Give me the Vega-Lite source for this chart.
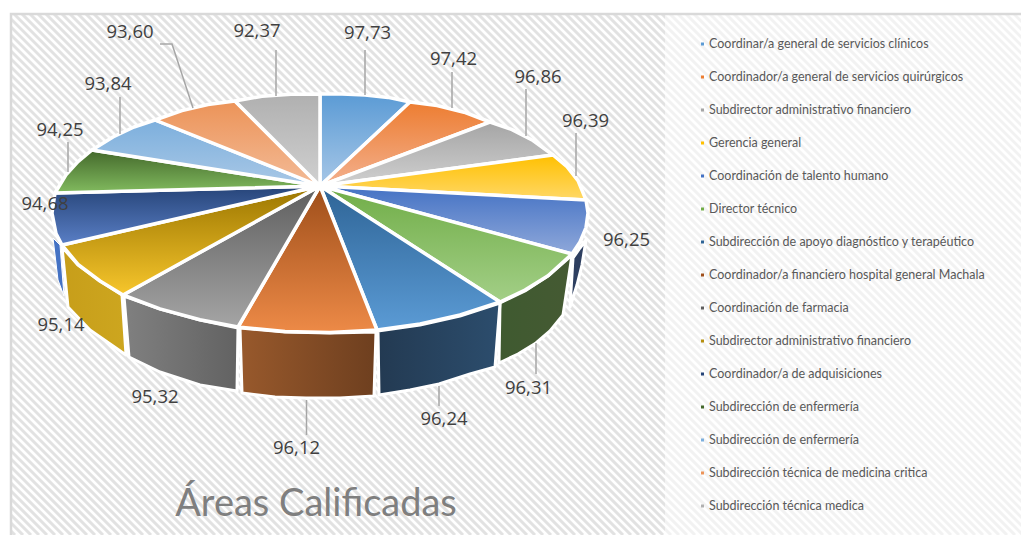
{"$schema":"https://vega.github.io/schema/vega-lite/v6.json","width":1021,"height":535,"padding":0,"autosize":"none","background":"#ffffff","view":{"stroke":null},
"resolve":{"scale":{"color":"independent"}},
"layer":[
{"projection":{"type":"identity","scale":1,"translate":[0,0]},
"layer":[
{"mark":{"type":"geoshape","filled":false,"stroke":"#e2e2e2","strokeWidth":3},
"data":{"values":[{"type":"Feature","properties":{"n":"trama"},"geometry":{"type":"MultiLineString","coordinates":[
[[-520,0],[15,535]],[[-512,0],[23,535]],[[-504,0],[31,535]],[[-496,0],[39,535]],[[-488,0],[47,535]],[[-480,0],[55,535]],[[-472,0],[63,535]],[[-464,0],[71,535]],[[-456,0],[79,535]],[[-448,0],[87,535]],
[[-440,0],[95,535]],[[-432,0],[103,535]],[[-424,0],[111,535]],[[-416,0],[119,535]],[[-408,0],[127,535]],[[-400,0],[135,535]],[[-392,0],[143,535]],[[-384,0],[151,535]],[[-376,0],[159,535]],[[-368,0],[167,535]],
[[-360,0],[175,535]],[[-352,0],[183,535]],[[-344,0],[191,535]],[[-336,0],[199,535]],[[-328,0],[207,535]],[[-320,0],[215,535]],[[-312,0],[223,535]],[[-304,0],[231,535]],[[-296,0],[239,535]],[[-288,0],[247,535]],
[[-280,0],[255,535]],[[-272,0],[263,535]],[[-264,0],[271,535]],[[-256,0],[279,535]],[[-248,0],[287,535]],[[-240,0],[295,535]],[[-232,0],[303,535]],[[-224,0],[311,535]],[[-216,0],[319,535]],[[-208,0],[327,535]],
[[-200,0],[335,535]],[[-192,0],[343,535]],[[-184,0],[351,535]],[[-176,0],[359,535]],[[-168,0],[367,535]],[[-160,0],[375,535]],[[-152,0],[383,535]],[[-144,0],[391,535]],[[-136,0],[399,535]],[[-128,0],[407,535]],
[[-120,0],[415,535]],[[-112,0],[423,535]],[[-104,0],[431,535]],[[-96,0],[439,535]],[[-88,0],[447,535]],[[-80,0],[455,535]],[[-72,0],[463,535]],[[-64,0],[471,535]],[[-56,0],[479,535]],[[-48,0],[487,535]],
[[-40,0],[495,535]],[[-32,0],[503,535]],[[-24,0],[511,535]],[[-16,0],[519,535]],[[-8,0],[527,535]],[[0,0],[535,535]],[[8,0],[543,535]],[[16,0],[551,535]],[[24,0],[559,535]],[[32,0],[567,535]],
[[40,0],[575,535]],[[48,0],[583,535]],[[56,0],[591,535]],[[64,0],[599,535]],[[72,0],[607,535]],[[80,0],[615,535]],[[88,0],[623,535]],[[96,0],[631,535]],[[104,0],[639,535]],[[112,0],[647,535]],
[[120,0],[655,535]],[[128,0],[663,535]],[[136,0],[671,535]],[[144,0],[679,535]],[[152,0],[687,535]],[[160,0],[695,535]],[[168,0],[703,535]],[[176,0],[711,535]],[[184,0],[719,535]],[[192,0],[727,535]],
[[200,0],[735,535]],[[208,0],[743,535]],[[216,0],[751,535]],[[224,0],[759,535]],[[232,0],[767,535]],[[240,0],[775,535]],[[248,0],[783,535]],[[256,0],[791,535]],[[264,0],[799,535]],[[272,0],[807,535]],
[[280,0],[815,535]],[[288,0],[823,535]],[[296,0],[831,535]],[[304,0],[839,535]],[[312,0],[847,535]],[[320,0],[855,535]],[[328,0],[863,535]],[[336,0],[871,535]],[[344,0],[879,535]],[[352,0],[887,535]],
[[360,0],[895,535]],[[368,0],[903,535]],[[376,0],[911,535]],[[384,0],[919,535]],[[392,0],[927,535]],[[400,0],[935,535]],[[408,0],[943,535]],[[416,0],[951,535]],[[424,0],[959,535]],[[432,0],[967,535]],
[[440,0],[975,535]],[[448,0],[983,535]],[[456,0],[991,535]],[[464,0],[999,535]],[[472,0],[1007,535]],[[480,0],[1015,535]],[[488,0],[1023,535]],[[496,0],[1031,535]],[[504,0],[1039,535]],[[512,0],[1047,535]],
[[520,0],[1055,535]],[[528,0],[1063,535]],[[536,0],[1071,535]],[[544,0],[1079,535]],[[552,0],[1087,535]],[[560,0],[1095,535]],[[568,0],[1103,535]],[[576,0],[1111,535]],[[584,0],[1119,535]],[[592,0],[1127,535]],
[[600,0],[1135,535]],[[608,0],[1143,535]],[[616,0],[1151,535]],[[624,0],[1159,535]],[[632,0],[1167,535]],[[640,0],[1175,535]],[[648,0],[1183,535]],[[656,0],[1191,535]],[[664,0],[1199,535]],[[672,0],[1207,535]],
[[680,0],[1215,535]],[[688,0],[1223,535]],[[696,0],[1231,535]],[[704,0],[1239,535]],[[712,0],[1247,535]],[[720,0],[1255,535]],[[728,0],[1263,535]],[[736,0],[1271,535]],[[744,0],[1279,535]],[[752,0],[1287,535]],
[[760,0],[1295,535]],[[768,0],[1303,535]],[[776,0],[1311,535]],[[784,0],[1319,535]],[[792,0],[1327,535]],[[800,0],[1335,535]],[[808,0],[1343,535]],[[816,0],[1351,535]],[[824,0],[1359,535]],[[832,0],[1367,535]],
[[840,0],[1375,535]],[[848,0],[1383,535]],[[856,0],[1391,535]],[[864,0],[1399,535]],[[872,0],[1407,535]],[[880,0],[1415,535]],[[888,0],[1423,535]],[[896,0],[1431,535]],[[904,0],[1439,535]],[[912,0],[1447,535]],
[[920,0],[1455,535]],[[928,0],[1463,535]],[[936,0],[1471,535]],[[944,0],[1479,535]],[[952,0],[1487,535]],[[960,0],[1495,535]],[[968,0],[1503,535]],[[976,0],[1511,535]],[[984,0],[1519,535]],[[992,0],[1527,535]],[[1000,0],[1535,535]],[[1008,0],[1543,535]]
]}}]},"encoding":{}},
{"mark":{"type":"geoshape","fill":"#ffffff","fillOpacity":0.55,"strokeWidth":0},
"data":{"values":[{"type":"Feature","properties":{"n":"leyenda"},"geometry":{"type":"Polygon","coordinates":[[[665,14],[1030,14],[1030,545],[665,545],[665,14]]]}}]},"encoding":{}},
{"mark":{"type":"geoshape","fill":"#ffffff","strokeWidth":0},
"data":{"values":[{"type":"Feature","properties":{"n":"margen"},"geometry":{"type":"MultiPolygon","coordinates":[[[[-5,-5],[1030,-5],[1030,14],[-5,14],[-5,-5]]],[[[-5,-5],[11,-5],[11,545],[-5,545],[-5,-5]]]]}}]},"encoding":{}},
{"mark":{"type":"geoshape","filled":false,"stroke":"#d9d9d9","strokeWidth":2.5},
"data":{"values":[{"type":"Feature","properties":{"n":"marco"},"geometry":{"type":"Polygon","coordinates":[[[11,14],[1030,14],[1030,545],[11,545],[11,14]]]}}]},"encoding":{}},

{"mark":{"type":"geoshape","stroke":"#ffffff","strokeWidth":3,"strokeJoin":"round","fill":{"gradient":"linear","x1":0,"y1":0,"x2":1,"y2":0,"stops":[{"offset":0,"color":"#2e3f60"},{"offset":1,"color":"#2e3f60"}]}},"encoding":{},
"data":{"values":[{"type":"Feature","properties":{"p":5},"geometry":{"type":"Polygon","coordinates":[[[586,240],[582,265],[577,285],[570,307],[573,258],[580,248],[586,240]]]}}]}},
{"mark":{"type":"geoshape","stroke":"#ffffff","strokeWidth":3,"strokeJoin":"round","fill":{"gradient":"linear","x1":0,"y1":0,"x2":1,"y2":0,"stops":[{"offset":0,"color":"#3f5a30"},{"offset":1,"color":"#455a33"}]}},"encoding":{},
"data":{"values":[{"type":"Feature","properties":{"p":6},"geometry":{"type":"Polygon","coordinates":[[[500,303],[525,291],[548,276],[572,255],[563,315],[550,331],[536,343],[518,354],[499,363],[500,303]]]}}]}},
{"mark":{"type":"geoshape","stroke":"#ffffff","strokeWidth":3,"strokeJoin":"round","fill":{"gradient":"linear","x1":0,"y1":0,"x2":1,"y2":0,"stops":[{"offset":0,"color":"#233a52"},{"offset":1,"color":"#2c4d6d"}]}},"encoding":{},
"data":{"values":[{"type":"Feature","properties":{"p":7},"geometry":{"type":"Polygon","coordinates":[[[500,303],[460,316],[420,325],[378,331],[379,395],[410,390],[439,384],[470,374],[495,367],[500,303]]]}}]}},
{"mark":{"type":"geoshape","stroke":"#ffffff","strokeWidth":3,"strokeJoin":"round","fill":{"gradient":"linear","x1":0,"y1":0,"x2":1,"y2":0,"stops":[{"offset":0,"color":"#98592c"},{"offset":1,"color":"#6e3f1f"}]}},"encoding":{},
"data":{"values":[{"type":"Feature","properties":{"p":8},"geometry":{"type":"Polygon","coordinates":[[[376,332],[330,333],[285,332],[240,328],[242,393],[275,397],[306,398],[340,398],[374,396],[376,332]]]}}]}},
{"mark":{"type":"geoshape","stroke":"#ffffff","strokeWidth":3,"strokeJoin":"round","fill":{"gradient":"linear","x1":0,"y1":0,"x2":1,"y2":0,"stops":[{"offset":0,"color":"#808080"},{"offset":1,"color":"#626262"}]}},"encoding":{},
"data":{"values":[{"type":"Feature","properties":{"p":9},"geometry":{"type":"Polygon","coordinates":[[[238,328],[200,320],[160,309],[124,296],[129,357],[160,372],[200,385],[237,391],[238,328]]]}}]}},
{"mark":{"type":"geoshape","stroke":"#ffffff","strokeWidth":3,"strokeJoin":"round","fill":{"gradient":"linear","x1":0,"y1":0,"x2":1,"y2":0,"stops":[{"offset":0,"color":"#c79e1a"},{"offset":1,"color":"#cda61f"}]}},"encoding":{},
"data":{"values":[{"type":"Feature","properties":{"p":10},"geometry":{"type":"Polygon","coordinates":[[[122,295],[100,281],[78,265],[62,247],[68,307],[90,330],[126,355],[122,295]]]}}]}},
{"mark":{"type":"geoshape","stroke":"#ffffff","strokeWidth":1,"strokeJoin":"round","fill":"#4472c4"},"encoding":{},
"data":{"values":[{"type":"Feature","properties":{"p":11},"geometry":{"type":"Polygon","coordinates":[[[53,238],[60,245],[64,296],[58,280],[53,238]]]}}]}},

{"mark":{"type":"geoshape","stroke":"#ffffff","strokeWidth":3.5,"strokeJoin":"round","fill":{"gradient":"linear","x1":0,"y1":0,"x2":0,"y2":1,"stops":[{"offset":0,"color":"#5b9bd5"},{"offset":1,"color":"#a7c7e7"}]}},"encoding":{},
"data":{"values":[{"type":"Feature","properties":{"orden":1},"geometry":{"type":"Polygon","coordinates":[[[320,186],[320,94],[342,94],[365,95],[388,97.4],[410,102],[320,186]]]}}]}},
{"mark":{"type":"geoshape","stroke":"#ffffff","strokeWidth":3.5,"strokeJoin":"round","fill":{"gradient":"linear","x1":0,"y1":0,"x2":0,"y2":1,"stops":[{"offset":0,"color":"#ed7d31"},{"offset":1,"color":"#f3b08e"}]}},"encoding":{},
"data":{"values":[{"type":"Feature","properties":{"orden":2},"geometry":{"type":"Polygon","coordinates":[[[320,186],[410,102],[437,105.5],[464,112.2],[490,122],[320,186]]]}}]}},
{"mark":{"type":"geoshape","stroke":"#ffffff","strokeWidth":3.5,"strokeJoin":"round","fill":{"gradient":"linear","x1":0,"y1":0,"x2":0,"y2":1,"stops":[{"offset":0,"color":"#a5a5a5"},{"offset":1,"color":"#d0d0d0"}]}},"encoding":{},
"data":{"values":[{"type":"Feature","properties":{"orden":3},"geometry":{"type":"Polygon","coordinates":[[[320,186],[490,122],[512,129.6],[533,140.5],[553,155],[320,186]]]}}]}},
{"mark":{"type":"geoshape","stroke":"#ffffff","strokeWidth":3.5,"strokeJoin":"round","fill":{"gradient":"linear","x1":0,"y1":0,"x2":0,"y2":1,"stops":[{"offset":0,"color":"#ffc000"},{"offset":1,"color":"#ffd867"}]}},"encoding":{},
"data":{"values":[{"type":"Feature","properties":{"orden":4},"geometry":{"type":"Polygon","coordinates":[[[320,186],[553,155],[567,166.7],[578,180.7],[586,200],[320,186]]]}}]}},
{"mark":{"type":"geoshape","stroke":"#ffffff","strokeWidth":3.5,"strokeJoin":"round","fill":{"gradient":"linear","x1":0,"y1":0,"x2":0,"y2":1,"stops":[{"offset":0,"color":"#4472c4"},{"offset":1,"color":"#8fa8da"}]}},"encoding":{},
"data":{"values":[{"type":"Feature","properties":{"orden":5},"geometry":{"type":"Polygon","coordinates":[[[320,186],[586,200],[588,213],[586,227.6],[580,242],[572,254],[320,186]]]}}]}},
{"mark":{"type":"geoshape","stroke":"#ffffff","strokeWidth":3.5,"strokeJoin":"round","fill":{"gradient":"linear","x1":0,"y1":0,"x2":0,"y2":1,"stops":[{"offset":0,"color":"#70ad47"},{"offset":1,"color":"#a3cf87"}]}},"encoding":{},
"data":{"values":[{"type":"Feature","properties":{"orden":6},"geometry":{"type":"Polygon","coordinates":[[[320,186],[572,254],[548,275.7],[525,290],[500,302],[320,186]]]}}]}},
{"mark":{"type":"geoshape","stroke":"#ffffff","strokeWidth":3.5,"strokeJoin":"round","fill":{"gradient":"linear","x1":0,"y1":0,"x2":0,"y2":1,"stops":[{"offset":0,"color":"#2e6496"},{"offset":1,"color":"#5b9bd5"}]}},"encoding":{},
"data":{"values":[{"type":"Feature","properties":{"orden":7},"geometry":{"type":"Polygon","coordinates":[[[320,186],[500,302],[460,315],[420,323.9],[377,330],[320,186]]]}}]}},
{"mark":{"type":"geoshape","stroke":"#ffffff","strokeWidth":3.5,"strokeJoin":"round","fill":{"gradient":"linear","x1":0,"y1":0,"x2":0,"y2":1,"stops":[{"offset":0,"color":"#9e4e1a"},{"offset":1,"color":"#ed8a47"}]}},"encoding":{},
"data":{"values":[{"type":"Feature","properties":{"orden":8},"geometry":{"type":"Polygon","coordinates":[[[320,186],[377,330],[330,332.4],[285,331.4],[238,327],[320,186]]]}}]}},
{"mark":{"type":"geoshape","stroke":"#ffffff","strokeWidth":3.5,"strokeJoin":"round","fill":{"gradient":"linear","x1":0,"y1":0,"x2":0,"y2":1,"stops":[{"offset":0,"color":"#5e5e5e"},{"offset":1,"color":"#a5a5a5"}]}},"encoding":{},
"data":{"values":[{"type":"Feature","properties":{"orden":9},"geometry":{"type":"Polygon","coordinates":[[[320,186],[238,327],[200,319.8],[160,308.9],[123,295],[320,186]]]}}]}},
{"mark":{"type":"geoshape","stroke":"#ffffff","strokeWidth":3.5,"strokeJoin":"round","fill":{"gradient":"linear","x1":0,"y1":0,"x2":0,"y2":1,"stops":[{"offset":0,"color":"#9a7500"},{"offset":1,"color":"#f7c62c"}]}},"encoding":{},
"data":{"values":[{"type":"Feature","properties":{"orden":10},"geometry":{"type":"Polygon","coordinates":[[[320,186],[123,295],[100,281],[78,264.4],[62,245],[320,186]]]}}]}},
{"mark":{"type":"geoshape","stroke":"#ffffff","strokeWidth":3.5,"strokeJoin":"round","fill":{"gradient":"linear","x1":0,"y1":0,"x2":0,"y2":1,"stops":[{"offset":0,"color":"#264478"},{"offset":1,"color":"#5a7fc6"}]}},"encoding":{},
"data":{"values":[{"type":"Feature","properties":{"orden":11},"geometry":{"type":"Polygon","coordinates":[[[320,186],[62,245],[56,233.6],[52,213],[55,193],[320,186]]]}}]}},
{"mark":{"type":"geoshape","stroke":"#ffffff","strokeWidth":3.5,"strokeJoin":"round","fill":{"gradient":"linear","x1":0,"y1":0,"x2":0,"y2":1,"stops":[{"offset":0,"color":"#43682b"},{"offset":1,"color":"#82bb5f"}]}},"encoding":{},
"data":{"values":[{"type":"Feature","properties":{"orden":12},"geometry":{"type":"Polygon","coordinates":[[[320,186],[55,193],[66,174.9],[78,161.6],[92,150],[320,186]]]}}]}},
{"mark":{"type":"geoshape","stroke":"#ffffff","strokeWidth":3.5,"strokeJoin":"round","fill":{"gradient":"linear","x1":0,"y1":0,"x2":0,"y2":1,"stops":[{"offset":0,"color":"#7cafdd"},{"offset":1,"color":"#a9c8e6"}]}},"encoding":{},
"data":{"values":[{"type":"Feature","properties":{"orden":13},"geometry":{"type":"Polygon","coordinates":[[[320,186],[92,150],[113,137],[134,127],[155,120],[320,186]]]}}]}},
{"mark":{"type":"geoshape","stroke":"#ffffff","strokeWidth":3.5,"strokeJoin":"round","fill":{"gradient":"linear","x1":0,"y1":0,"x2":0,"y2":1,"stops":[{"offset":0,"color":"#ec9358"},{"offset":1,"color":"#f3bb97"}]}},"encoding":{},
"data":{"values":[{"type":"Feature","properties":{"orden":14},"geometry":{"type":"Polygon","coordinates":[[[320,186],[155,120],[182,110.6],[208,104.5],[235,101],[320,186]]]}}]}},
{"mark":{"type":"geoshape","stroke":"#ffffff","strokeWidth":3.5,"strokeJoin":"round","fill":{"gradient":"linear","x1":0,"y1":0,"x2":0,"y2":1,"stops":[{"offset":0,"color":"#b0b0b0"},{"offset":1,"color":"#d0d0d0"}]}},"encoding":{},
"data":{"values":[{"type":"Feature","properties":{"orden":15},"geometry":{"type":"Polygon","coordinates":[[[320,186],[235,101],[262,96.3],[291,94.2],[320,94],[320,186]]]}}]}},

{"mark":{"type":"geoshape","filled":false,"stroke":"#a6a6a6","strokeWidth":1.5},
"data":{"values":[{"type":"Feature","properties":{"n":"guias"},"geometry":{"type":"MultiLineString","coordinates":[
[[365,50],[365,95]],[[452,72],[452,108]],[[526,89],[526,136]],[[576,133],[576,176]],[[536,343],[536,374]],[[439,386],[439,406]],[[306.5,400],[306.5,435]],[[68,142],[68,172]],[[120,97],[120,134]],[[160,44],[172,44],[193,108]],[[276,50],[276,96]]
]}}]},"encoding":{}},
{"mark":{"type":"text","font":"Open Sans","fontSize":18.5,"color":"#404040","align":"center","baseline":"middle"},
"data":{"values":[
{"valor":"97,73","lon":367.5,"lat":33},{"valor":"97,42","lon":453.5,"lat":59},{"valor":"96,86","lon":538,"lat":77},{"valor":"96,39","lon":585.5,"lat":121},{"valor":"96,25","lon":626.5,"lat":240},{"valor":"96,31","lon":528.5,"lat":388},{"valor":"96,24","lon":444,"lat":419},{"valor":"96,12","lon":296.5,"lat":448},{"valor":"95,32","lon":155,"lat":397},{"valor":"95,14","lon":61,"lat":325},{"valor":"94,68","lon":45,"lat":204},{"valor":"94,25","lon":60,"lat":130},{"valor":"93,84","lon":108,"lat":84},{"valor":"93,60","lon":130,"lat":32},{"valor":"92,37","lon":257,"lat":31}
]},
"encoding":{"longitude":{"field":"lon","type":"quantitative"},"latitude":{"field":"lat","type":"quantitative"},"text":{"field":"valor"}}},
{"mark":{"type":"text","font":"Lato","fontSize":38,"color":"#7f7f7f","align":"center","baseline":"middle"},
"data":{"values":[{"t":"Áreas Calificadas","lon":316,"lat":505}]},
"encoding":{"longitude":{"field":"lon","type":"quantitative"},"latitude":{"field":"lat","type":"quantitative"},"text":{"field":"t"}}}
]},
{"data":{"name":"leyenda","values":[
{"orden":1,"area":"Coordinar/a general de servicios clínicos"},{"orden":2,"area":"Coordinador/a general de servicios quirúrgicos"},{"orden":3,"area":"Subdirector administrativo financiero"},{"orden":4,"area":"Gerencia general"},{"orden":5,"area":"Coordinación de talento humano"},{"orden":6,"area":"Director técnico"},{"orden":7,"area":"Subdirección de apoyo diagnóstico y terapéutico"},{"orden":8,"area":"Coordinador/a financiero hospital general Machala"},{"orden":9,"area":"Coordinación de farmacia"},{"orden":10,"area":"Subdirector administrativo financiero"},{"orden":11,"area":"Coordinador/a de adquisiciones"},{"orden":12,"area":"Subdirección de enfermería"},{"orden":13,"area":"Subdirección de enfermería"},{"orden":14,"area":"Subdirección técnica de medicina critica"},{"orden":15,"area":"Subdirección técnica medica"}
]},
"layer":[
{"mark":{"type":"text","font":"Lato","fontSize":12.5,"color":"#595959","align":"left","baseline":"middle"},
"encoding":{"x":{"datum":709,"type":"quantitative","scale":{"domain":[0,1021],"range":[0,1021]},"axis":null},"y":{"field":"orden","type":"ordinal","axis":null,"scale":{"type":"point","range":[44,506],"padding":0}},"text":{"field":"area"}}},
{"mark":{"type":"point","shape":"square","filled":true,"size":9,"opacity":1},
"encoding":{"x":{"datum":702.5,"type":"quantitative","scale":{"domain":[0,1021],"range":[0,1021]},"axis":null},"y":{"field":"orden","type":"ordinal","axis":null,"scale":{"type":"point","range":[44,506],"padding":0}},
"color":{"field":"orden","type":"ordinal","legend":null,"scale":{"domain":[1,2,3,4,5,6,7,8,9,10,11,12,13,14,15],"range":["#5b9bd5","#ed7d31","#a5a5a5","#ffc000","#4472c4","#70ad47","#2e6496","#9e4e1a","#5e5e5e","#b58f0f","#264478","#43682b","#7cafdd","#ec9358","#b0b0b0"]}}}}
]}
]}
